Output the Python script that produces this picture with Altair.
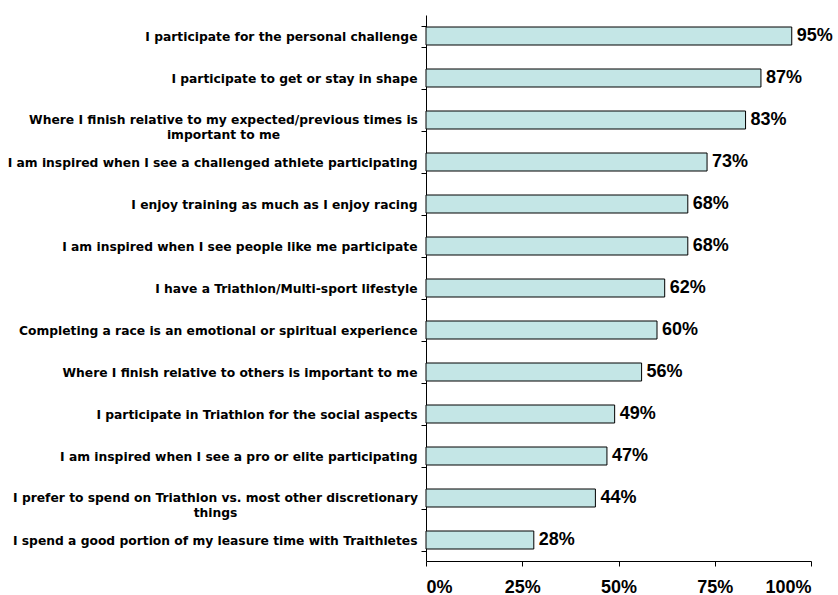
import altair as alt
import pandas as pd

categories = [
    "I participate for the personal challenge",
    "I participate to get or stay in shape",
    "Where I finish relative to my expected/previous times is|important to me",
    "I am inspired when I see a challenged athlete participating",
    "I enjoy training as much as I enjoy racing",
    "I am inspired when I see people like me participate",
    "I have a Triathlon/Multi-sport lifestyle",
    "Completing a race is an emotional or spiritual experience",
    "Where I finish relative to others is important to me",
    "I participate in Triathlon for the social aspects",
    "I am inspired when I see a pro or elite participating",
    "I prefer to spend on Triathlon vs. most other discretionary|things",
    "I spend a good portion of my leasure time with Traithletes",
]
values = [95, 87, 83, 73, 68, 68, 62, 60, 56, 49, 47, 44, 28]
tick_values = [0, 25, 50, 75, 100]

df = pd.DataFrame({"cat": categories, "val": values})
df["lab"] = df["val"].astype(str) + "%"

FONT = "DejaVu Sans"
LFONT = "Liberation Sans"
LABEL_SIZE = 12.3

y = alt.Y(
    "cat:N",
    sort=categories,
    title=None,
    axis=alt.Axis(
        labelExpr="indexof(datum.label, '|') >= 0 ? '' : datum.label",
        labelFont=FONT,
        labelFontSize=LABEL_SIZE,
        labelFontWeight="bold",
        labelColor="black",
        labelLimit=0,
        labelPadding=4,
        tickBand="extent",
        tickSize=5,
        tickColor="black",
        domainColor="black",
        grid=False,
    ),
    scale=alt.Scale(paddingInner=0.5, paddingOuter=0.25),
)

x = alt.X(
    "val:Q",
    title=None,
    scale=alt.Scale(domain=[0, 100]),
    axis=alt.Axis(
        values=tick_values,
        labelExpr="datum.value + '%'",
        labelFont=LFONT,
        labelFontSize=18,
        labelFontWeight="bold",
        labelColor="black",
        labelPadding=12,
        tickSize=5,
        tickColor="black",
        domainColor="black",
        grid=False,
    ),
)

bars = alt.Chart(df).mark_bar(
    size=18, fill="#C4E6E6", stroke="black", strokeWidth=1
).encode(x=x, y=y)

text = alt.Chart(df).mark_text(
    align="left", baseline="middle", dx=5, font=LFONT, fontSize=18,
    fontWeight="bold", color="black"
).encode(
    x=alt.X("val:Q", scale=alt.Scale(domain=[0, 100])),
    y=alt.Y("cat:N", sort=categories),
    text="lab:N",
)

# centred two-line category labels (label centre, px left of the axis)
multi_centres = {categories[2]: -202.5, categories[11]: -210.5}
multi_layers = []
for cat, cx in multi_centres.items():
    multi_layers.append(
        alt.Chart(df[df["cat"] == cat]).mark_text(
            align="center", baseline="middle", lineBreak="|", lineHeight=15,
            font=FONT, fontSize=LABEL_SIZE, fontWeight="bold", color="black",
        ).encode(
            x=alt.value(cx),
            y=alt.Y("cat:N", sort=categories),
            text="cat:N",
        )
    )

chart = (
    alt.layer(bars, text, *multi_layers)
    .properties(
        width=385,
        height=546,
        autosize=alt.AutoSizeParams(type="none"),
        padding={"left": 426, "top": 15, "right": 27, "bottom": 34},
        background="white",
    )
    .configure_view(stroke=None)
)

chart.save("out.html", embed_options={"renderer": "svg", "actions": False})
